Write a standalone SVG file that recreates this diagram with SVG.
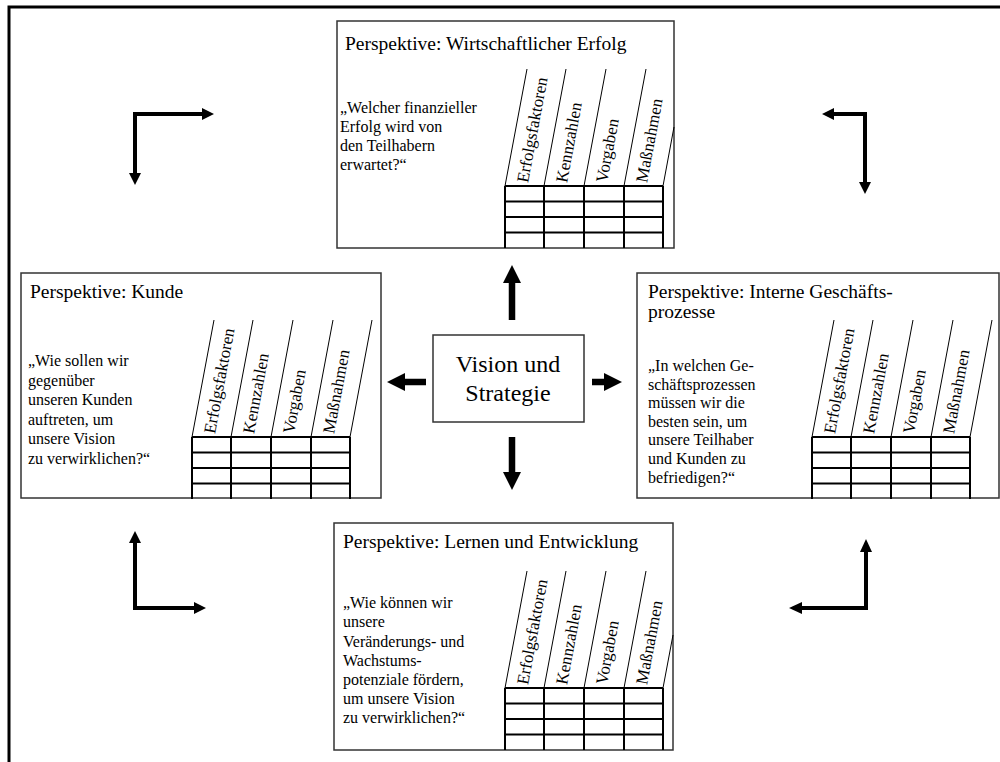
<svg xmlns="http://www.w3.org/2000/svg" width="1000" height="762" viewBox="0 0 1000 762">
<style>
.box{fill:#fff;stroke:#333;stroke-width:1.5}
.t{font-family:"Liberation Serif","Times New Roman",serif;fill:#000}
.ti{font-size:19.5px}
.q{font-size:16px}
.lab{font-size:17px}
.grid{fill:none;stroke:#000;stroke-width:2}
.sl{stroke:#000;stroke-width:1;fill:none}
.shaft{stroke:#000;fill:none}
.head{fill:#000}
</style>
<defs>
<g id="table">
<line class="sl" x1="0" y1="0" x2="22" y2="-117"/>
<line class="sl" x1="39" y1="0" x2="61" y2="-117"/>
<line class="sl" x1="79" y1="0" x2="101" y2="-117"/>
<line class="sl" x1="119" y1="0" x2="141" y2="-117"/>
<path class="grid" d="M0,0H158M0,15.5H158M0,31H158M0,46.5H158M0,0V62M39,0V62M79,0V62M119,0V62M158,0V62"/>
<text class="t lab" transform="translate(0,0) rotate(-79.35)" x="7" y="22">Erfolgsfaktoren</text>
<text class="t lab" transform="translate(39,0) rotate(-79.35)" x="7" y="22">Kennzahlen</text>
<text class="t lab" transform="translate(79,0) rotate(-79.35)" x="7" y="22">Vorgaben</text>
<text class="t lab" transform="translate(119,0) rotate(-79.35)" x="7" y="22">Maßnahmen</text>
</g>
</defs>
<rect width="1000" height="762" fill="#fff"/>
<path d="M9,762V7H1000" fill="none" stroke="#000" stroke-width="3"/>

<g id="top">
<rect class="box" x="337" y="21" width="337" height="227"/>
<text class="t ti" x="345" y="50">Perspektive: Wirtschaftlicher Erfolg</text>
<text class="t q" x="340"><tspan x="340" y="113">„Welcher finanzieller</tspan><tspan x="340" y="132">Erfolg wird von</tspan><tspan x="340" y="151">den Teilhabern</tspan><tspan x="340" y="170">erwartet?“</tspan></text>
<use href="#table" x="505" y="186"/>
<line class="sl" x1="663" y1="186" x2="674" y2="127"/>
</g>

<g id="left">
<rect class="box" x="21" y="273" width="360" height="225"/>
<text class="t ti" x="30" y="298">Perspektive: Kunde</text>
<text class="t q"><tspan x="28" y="366">„Wie sollen wir</tspan><tspan x="28" y="386">gegenüber</tspan><tspan x="28" y="405">unseren Kunden</tspan><tspan x="28" y="425">auftreten, um</tspan><tspan x="28" y="444">unsere Vision</tspan><tspan x="28" y="464">zu verwirklichen?“</tspan></text>
<use href="#table" x="192" y="437"/>
<line class="sl" x1="350" y1="437" x2="372" y2="320"/>
</g>

<g id="right">
<rect class="box" x="637" y="273" width="362" height="225"/>
<text class="t ti"><tspan x="648" y="298">Perspektive: Interne Geschäfts-</tspan><tspan x="648" y="318">prozesse</tspan></text>
<text class="t q"><tspan x="648" y="371">„In welchen Ge-</tspan><tspan x="648" y="390">schäftsprozessen</tspan><tspan x="648" y="408">müssen wir die</tspan><tspan x="648" y="427">besten sein, um</tspan><tspan x="648" y="445">unsere Teilhaber</tspan><tspan x="648" y="464">und Kunden zu</tspan><tspan x="648" y="483">befriedigen?“</tspan></text>
<use href="#table" x="812" y="437"/>
<line class="sl" x1="970" y1="437" x2="992" y2="320"/>
</g>

<g id="bottom">
<rect class="box" x="334" y="523" width="339" height="227"/>
<text class="t ti" x="343" y="548">Perspektive: Lernen und Entwicklung</text>
<text class="t q"><tspan x="343" y="608">„Wie können wir</tspan><tspan x="343" y="627">unsere</tspan><tspan x="343" y="647">Veränderungs- und</tspan><tspan x="343" y="666">Wachstums-</tspan><tspan x="343" y="685">potenziale fördern,</tspan><tspan x="343" y="704">um unsere Vision</tspan><tspan x="343" y="723">zu verwirklichen?“</tspan></text>
<use href="#table" x="505" y="688"/>
<line class="sl" x1="663" y1="688" x2="673" y2="635"/>
</g>

<g id="center">
<rect class="box" x="433" y="335" width="151" height="87"/>
<text class="t" font-size="24" text-anchor="middle" x="508" y="372">Vision und</text>
<text class="t" font-size="24" text-anchor="middle" x="508" y="401">Strategie</text>
</g>

<g id="connectors">
<path class="shaft" stroke-width="6.5" d="M512,320V282M512,437V473M426,382H404M592,382H606"/>
<polygon class="head" points="503,283 521,283 512,265"/>
<polygon class="head" points="503,472 521,472 512,490"/>
<polygon class="head" points="405,373 405,391 387,382"/>
<polygon class="head" points="604,373 604,391 622,382"/>
<path class="shaft" stroke-width="4" d="M203,114H135V174"/>
<polygon class="head" points="202,108 202,120 214,114"/>
<polygon class="head" points="129,173 141,173 135,185"/>
<path class="shaft" stroke-width="4" d="M833,114H865V183"/>
<polygon class="head" points="834,108 834,120 822,114"/>
<polygon class="head" points="859,182 871,182 865,194"/>
<path class="shaft" stroke-width="4" d="M135,542V608H195"/>
<polygon class="head" points="129,543 141,543 135,531"/>
<polygon class="head" points="194,602 194,614 206,608"/>
<path class="shaft" stroke-width="4" d="M866,551V608H801"/>
<polygon class="head" points="860,552 872,552 866,539"/>
<polygon class="head" points="802,602 802,614 789,608"/>
</g>
</svg>
